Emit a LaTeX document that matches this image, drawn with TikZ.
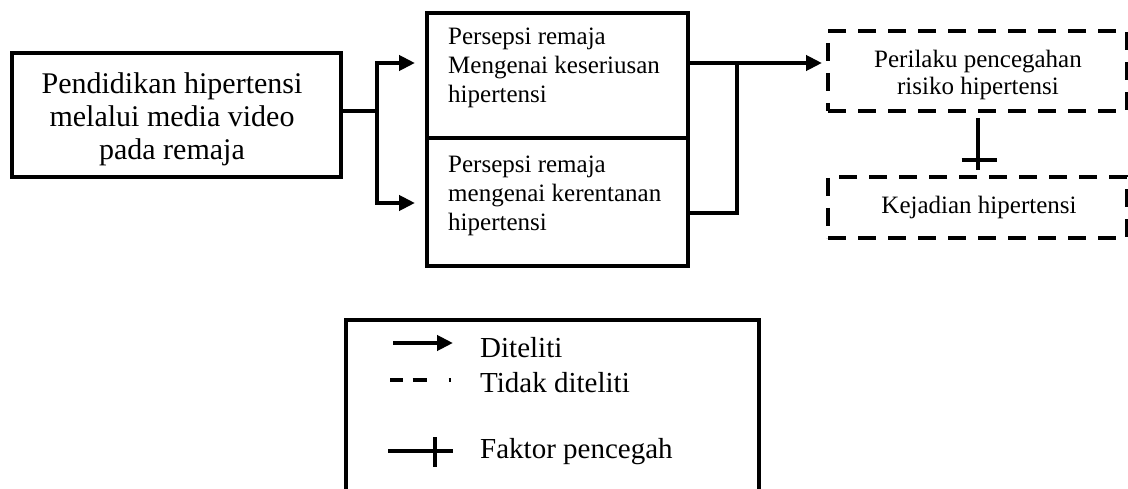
\documentclass[tikz,border=0pt]{standalone}
\usepackage{fontspec}
\setmainfont{Liberation Serif}
\usetikzlibrary{arrows.meta,calc}

\begin{document}
\begin{tikzpicture}[x=1pt,y=-1pt,
  frame/.style={draw,line width=4pt,inner sep=0pt},
  dashframe/.style={draw,line width=4pt,inner sep=0pt,dash pattern=on 18pt off 12pt},
  conn/.style={line width=4pt},
  arr/.style={line width=4pt,-{Triangle[length=16pt,width=15pt]}},
  bigtxt/.style={inner sep=0pt,align=center,font=\fontsize{30}{33}\selectfont},
  midtxt/.style={inner sep=0pt,align=left,anchor=west,font=\fontsize{25}{29}\selectfont},
  outtxt/.style={inner sep=0pt,align=center,font=\fontsize{25}{27}\selectfont},
  legtxt/.style={inner sep=0pt,anchor=base west,font=\fontsize{29}{35}\selectfont}]

\useasboundingbox (0,0) rectangle (1128,489);

% boxes
\node[frame,minimum width=329,minimum height=124] (edu) at (176.5,115) {};
\node[bigtxt] (edu-t) at (172,119) {Pendidikan hipertensi\\melalui media video\\pada remaja};

\node[frame,minimum width=261,minimum height=125] (per1) at (557.5,75.5) {};
\node[midtxt] (per1-t) at (448,68.2) {Persepsi remaja\\Mengenai keseriusan\\hipertensi};
\node[frame,minimum width=261,minimum height=128] (per2) at (557.5,202) {};
\node[midtxt] (per2-t) at (448,195.7) {Persepsi remaja\\mengenai kerentanan\\hipertensi};

\node[dashframe,minimum width=299,minimum height=80] (risk) at (977.5,71) {};
\node[outtxt] (risk-t) at (978,74.7) {Perilaku pencegahan\\risiko hipertensi};
\node[dashframe,minimum width=299,minimum height=61] (kej) at (977.5,207.5) {};
\node[outtxt] (kej-t) at (979,207.2) {Kejadian hipertensi};

% connectors
\coordinate (split) at (377,111);
\coordinate (join) at (737,63);
\draw[conn] (edu.east |- split) -- (split);
\draw[arr,shorten >=10pt] (split) |- ([yshift=12.5pt]per1.west);
\draw[arr,shorten >=10pt] (split) |- ([yshift=-1pt]per2.west);
\draw[arr,shorten >=4pt] ([yshift=12.5pt]per1.east) -- ([yshift=8pt]risk.west);
\draw[conn] ([yshift=-11pt]per2.east) -| (join);

% inhibiting link
\draw[conn,shorten <=5pt,shorten >=5pt] (risk.south) -- (kej.north);
\draw[conn] ($(kej.north)+(-16,-15)$) -- ($(kej.north)+(19,-15)$);

% legend
\node[frame,minimum width=413,minimum height=170.5] (legend) at (552.5,405.25) {};
\draw[arr] (393,343) -- (453,343);
\draw[line width=4pt,dash pattern=on 12.6pt off 10pt on 14pt off 22pt on 2pt off 100pt] (390,380) -- (452,380);
\draw[conn] (388,451) -- (453,451);
\draw[conn] (435,437) -- (435,467);
\node[legtxt] (leg1) at (480,357) {Diteliti};
\node[legtxt] (leg2) at (480,392) {Tidak diteliti};
\node[legtxt] (leg3) at (480,458) {Faktor pencegah};
\end{tikzpicture}
\end{document}
